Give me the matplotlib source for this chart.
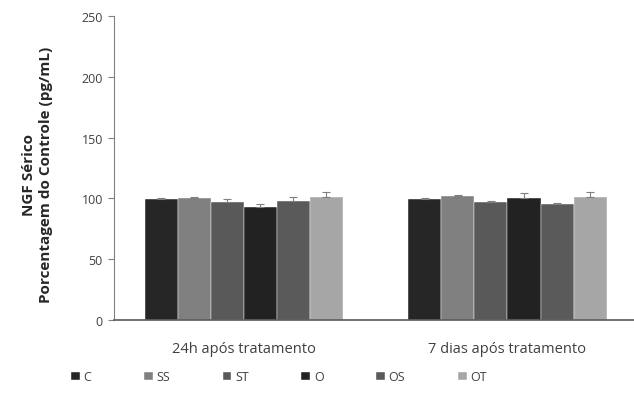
import matplotlib
matplotlib.use("Agg")
import matplotlib.pyplot as plt
import numpy as np

plt.rcParams['font.family'] = ['Open Sans', 'DejaVu Sans']

categories = ["24h após tratamento", "7 dias após tratamento"]
groups = ["C", "SS", "ST", "O", "OS", "OT"]
values = {
    "C":  [99.5, 99.5],
    "SS": [100.0, 102.0],
    "ST": [97.3, 96.8],
    "O":  [92.6, 100.6],
    "OS": [98.0, 95.1],
    "OT": [101.0, 101.0],
}
errors = {
    "C":  [0.6, 0.6],
    "SS": [0.8, 1.0],
    "ST": [2.0, 1.0],
    "O":  [3.0, 4.0],
    "OS": [3.0, 1.0],
    "OT": [4.0, 4.0],
}
colors = {
    "C": "#262626", "SS": "#808080", "ST": "#595959",
    "O": "#222222", "OS": "#5a5a5a", "OT": "#a6a6a6",
}
yticks = [0, 50, 100, 150, 200, 250]

fig = plt.figure(figsize=(6.34, 4.02), dpi=100)
ax = fig.add_axes([114 / 634, 1 - 321 / 402, 520 / 634, 304 / 402])

x = np.arange(len(categories))
w = 0.1253
for i, g in enumerate(groups):
    pos = x + (i - 2.5) * w
    ax.bar(pos, values[g], width=w, color=colors[g], label=g,
           edgecolor="white", linewidth=0.3)
    err = np.array(errors[g])
    ax.errorbar(pos, values[g], yerr=[np.zeros_like(err), err], fmt="none",
                ecolor="#7f7f7f", elinewidth=0.8, capsize=3, capthick=0.8)

ax.set_xlim(-0.493, 1.48)
ax.set_ylim(0, 250)
ax.set_yticks(yticks)
ax.set_yticklabels([str(t) for t in yticks], fontsize=9, color="#404040")
ax.set_xticks(x)
ax.set_xticklabels(categories, fontsize=10.5, color="#404040")
ax.tick_params(axis="x", length=0, pad=15)
ax.tick_params(axis="y", length=4, width=0.8, color="#808080", pad=4)
for s in ["top", "right"]:
    ax.spines[s].set_visible(False)
ax.spines["left"].set_color("#808080")
ax.spines["bottom"].set_color("#595959")
ax.spines["bottom"].set_linewidth(1.2)

fig.text(0.059, 0.565, "NGF Sérico\nPorcentagem do Controle (pg/mL)",
         rotation=90, ha="center", va="center", fontsize=11,
         fontweight="bold", color="#262626", linespacing=1.2)

handles, labels = ax.get_legend_handles_labels()
fig.legend(handles, labels, loc="center", bbox_to_anchor=(0.44, 0.06),
           ncol=6, frameon=False, fontsize=9, handlelength=0.7,
           handleheight=0.7, handletextpad=0.3, columnspacing=4.2,
           labelcolor="#404040")

fig.savefig("out.png", dpi=100)
